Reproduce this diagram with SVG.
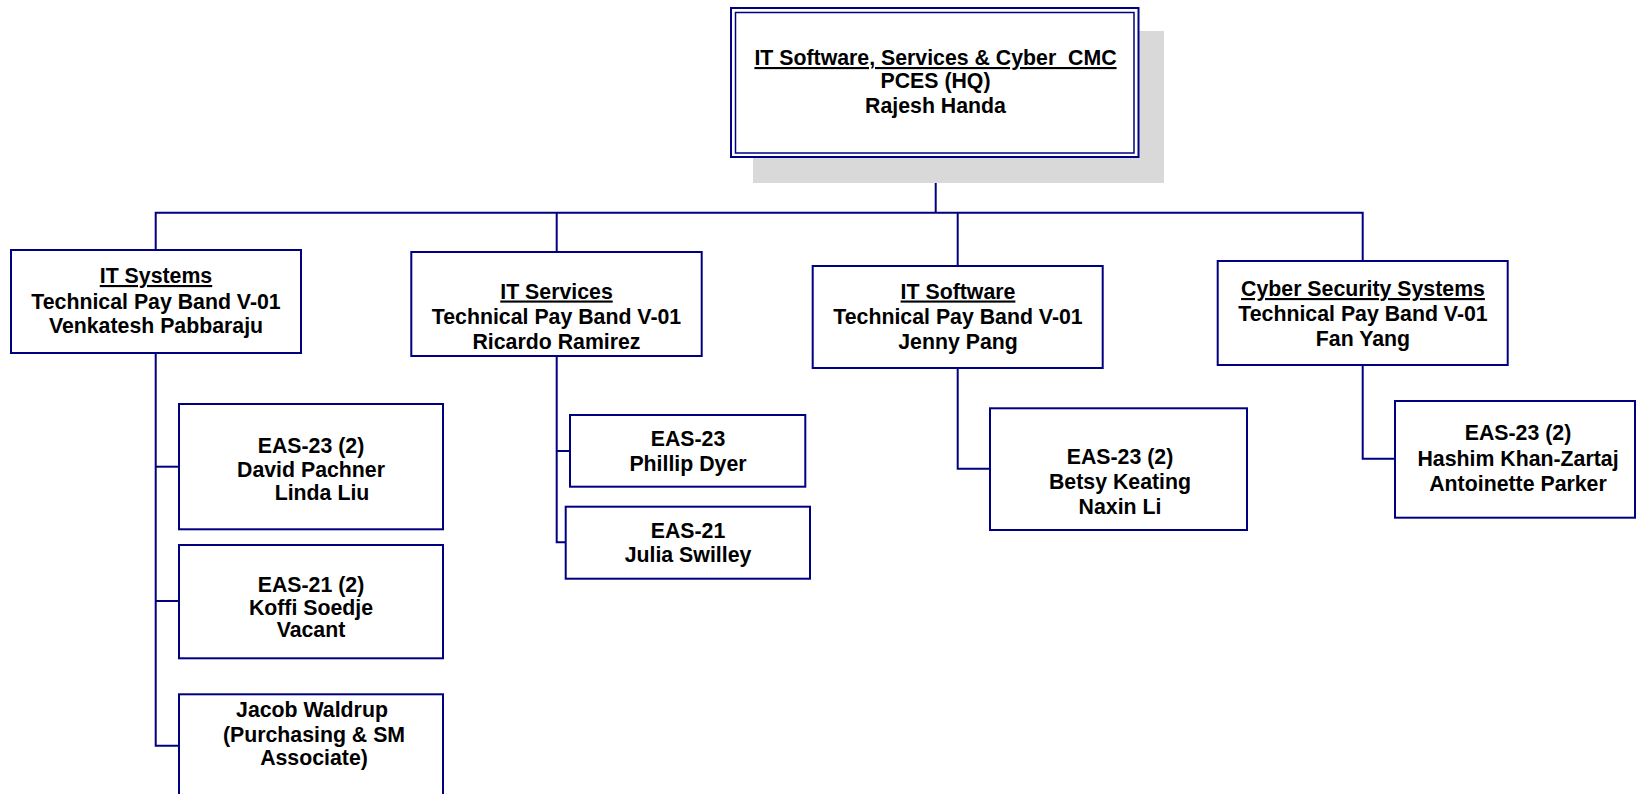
<svg xmlns="http://www.w3.org/2000/svg" width="1636" height="794" viewBox="0 0 1636 794">
<style>
  .box { fill: #ffffff; stroke: #000080; stroke-width: 2; }
  .inner { fill: none; stroke: #000080; stroke-width: 1.5; }
  .shadow { fill: #d9d9d9; stroke: none; }
  .conn { fill: none; stroke: #000080; stroke-width: 2; }
  text { font-family: "Liberation Sans", Arial, sans-serif; font-weight: bold; font-size: 21.3px; fill: #000000; text-anchor: middle; white-space: pre; }
  .u { text-decoration: underline; }
</style>
<rect x="0" y="0" width="1636" height="794" fill="#ffffff"/>
<g id="connectors">
  <path class="conn" d="M935.7,157 V212.7"/>
  <path class="conn" d="M155.7,250 V212.7 H1362.7 V261"/>
  <path class="conn" d="M556.7,212.7 V252"/>
  <path class="conn" d="M957.7,212.7 V266"/>
  <path class="conn" d="M155.7,353 V745.7 H179"/>
  <path class="conn" d="M155.7,466.7 H179"/>
  <path class="conn" d="M155.7,601 H179"/>
  <path class="conn" d="M556.7,356 V542.3 H566"/>
  <path class="conn" d="M556.7,451 H570"/>
  <path class="conn" d="M957.7,368 V468.7 H990"/>
  <path class="conn" d="M1362.7,365 V458.7 H1395"/>
</g>
<g id="node-cmc">
  <rect class="shadow" x="753" y="31" width="411" height="152"/>
  <rect class="box" x="731" y="8" width="407.5" height="149"/>
  <rect class="inner" x="735.5" y="12.5" width="398.5" height="140.5"/>
  <text x="935.5" y="65" class="u" xml:space="preserve">IT Software, Services &amp; Cyber  CMC</text>
  <text x="935.5" y="88">PCES (HQ)</text>
  <text x="935.5" y="113">Rajesh Handa</text>
</g>
<g id="node-it-systems">
  <rect class="box" x="11" y="250" width="290" height="103"/>
  <text x="156" y="283" class="u">IT Systems</text>
  <text x="156" y="308.5">Technical Pay Band V-01</text>
  <text x="156" y="333">Venkatesh Pabbaraju</text>
</g>
<g id="node-it-services">
  <rect class="box" x="411.3" y="252" width="290.4" height="104"/>
  <text x="556.5" y="298.5" class="u">IT Services</text>
  <text x="556.5" y="324">Technical Pay Band V-01</text>
  <text x="556.5" y="349">Ricardo Ramirez</text>
</g>
<g id="node-it-software">
  <rect class="box" x="812.7" y="266" width="290" height="102"/>
  <text x="958" y="298.5" class="u">IT Software</text>
  <text x="958" y="324">Technical Pay Band V-01</text>
  <text x="958" y="349">Jenny Pang</text>
</g>
<g id="node-cyber">
  <rect class="box" x="1217.7" y="261" width="290" height="104"/>
  <text x="1363" y="296" class="u">Cyber Security Systems</text>
  <text x="1363" y="320.5">Technical Pay Band V-01</text>
  <text x="1363" y="346">Fan Yang</text>
</g>
<g id="node-sys-eas23">
  <rect class="box" x="179" y="404" width="264" height="125.3"/>
  <text x="311" y="452.7">EAS-23 (2)</text>
  <text x="311" y="477.3">David Pachner</text>
  <text x="322" y="500">Linda Liu</text>
</g>
<g id="node-sys-eas21">
  <rect class="box" x="179" y="545" width="264" height="113.3"/>
  <text x="311" y="592">EAS-21 (2)</text>
  <text x="311" y="615">Koffi Soedje</text>
  <text x="311" y="636.7">Vacant</text>
</g>
<g id="node-sys-jacob">
  <rect class="box" x="179" y="694.3" width="264" height="120"/>
  <text x="312" y="717.3">Jacob Waldrup</text>
  <text x="314" y="741.7">(Purchasing &amp; SM</text>
  <text x="314" y="765">Associate)</text>
</g>
<g id="node-svc-eas23">
  <rect class="box" x="570" y="415" width="235.3" height="71.7"/>
  <text x="688" y="445.7">EAS-23</text>
  <text x="688" y="471">Phillip Dyer</text>
</g>
<g id="node-svc-eas21">
  <rect class="box" x="565.7" y="506.7" width="244.3" height="72"/>
  <text x="688" y="537.7">EAS-21</text>
  <text x="688" y="562.3">Julia Swilley</text>
</g>
<g id="node-sw-eas23">
  <rect class="box" x="990" y="408.3" width="257" height="121.7"/>
  <text x="1120" y="464">EAS-23 (2)</text>
  <text x="1120" y="489">Betsy Keating</text>
  <text x="1120" y="514">Naxin Li</text>
</g>
<g id="node-cyber-eas23">
  <rect class="box" x="1395" y="401" width="240" height="116.7"/>
  <text x="1518" y="440">EAS-23 (2)</text>
  <text x="1518" y="466">Hashim Khan-Zartaj</text>
  <text x="1518" y="491">Antoinette Parker</text>
</g>
</svg>
